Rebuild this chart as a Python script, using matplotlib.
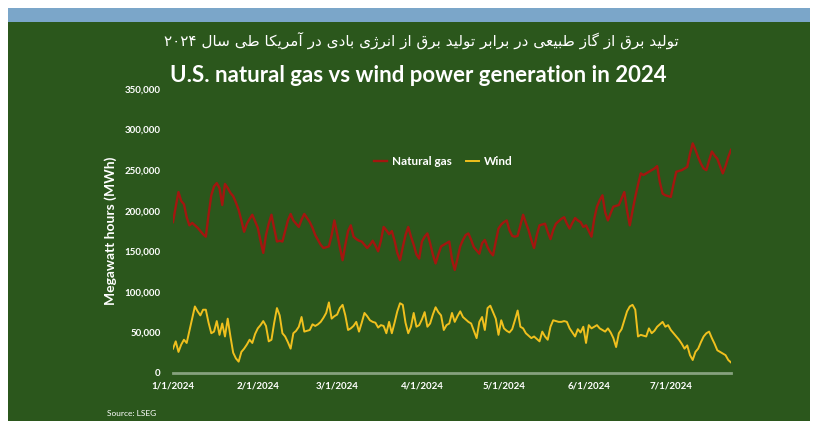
import re
import matplotlib
matplotlib.use('Agg')
import matplotlib.pyplot as plt
from matplotlib.patches import Rectangle
import pandas as pd

# daily generation, thousand MWh, 1/1/2024 .. 7/23/2024
gas_k = [186, 205, 223, 212, 208, 192, 182, 185, 182, 179, 175, 171, 168, 195, 219, 230, 234, 228, 207, 233,
         228, 222, 218, 210, 201, 188, 174, 184, 190, 195, 187, 179, 163, 148, 170, 184, 195, 178, 162, 163,
         162, 175, 188, 196, 188, 184, 180, 189, 196, 191, 186, 179, 170, 164, 158, 154, 155, 156, 170, 188,
         172, 155, 139, 158, 175, 182, 168, 165, 163, 162, 158, 154, 158, 163, 157, 150, 163, 180, 176, 171,
         175, 163, 148, 139, 155, 170, 180, 168, 158, 146, 141, 162, 168, 172, 160, 146, 135, 146, 156, 158,
         160, 162, 140, 127, 141, 156, 164, 170, 172, 164, 155, 151, 147, 160, 164, 155, 149, 145, 162, 178,
         183, 186, 188, 176, 169, 168, 169, 182, 195, 185, 176, 164, 154, 170, 182, 183, 184, 174, 165, 176,
         184, 187, 190, 192, 184, 178, 185, 191, 188, 186, 180, 182, 175, 168, 190, 205, 213, 219, 198, 188,
         197, 205, 206, 207, 215, 223, 200, 182, 200, 217, 232, 246, 244, 246, 248, 250, 252, 255, 235, 221,
         219, 218, 217, 233, 248, 249, 250, 252, 254, 270, 283, 275, 266, 258, 252, 250, 262, 273, 268, 264,
         255, 246, 255, 266, 275]
wind_k = [30, 39, 26, 35, 41, 37, 52, 67, 82, 76, 71, 78, 78, 62, 49, 51, 64, 47, 61, 45,
          67, 45, 25, 18, 14, 26, 30, 35, 41, 37, 48, 55, 59, 64, 58, 39, 41, 62, 80, 71,
          49, 45, 38, 30, 49, 52, 57, 69, 51, 52, 53, 60, 58, 60, 63, 68, 74, 87, 67, 70,
          72, 80, 84, 71, 53, 55, 58, 63, 51, 62, 74, 70, 65, 63, 62, 56, 59, 58, 49, 63,
          49, 62, 76, 86, 84, 62, 49, 57, 74, 57, 59, 66, 75, 57, 61, 72, 81, 75, 71, 53,
          59, 61, 74, 63, 70, 76, 69, 66, 63, 61, 52, 43, 63, 69, 53, 80, 83, 75, 67, 47,
          65, 55, 52, 50, 54, 65, 77, 57, 55, 49, 46, 43, 45, 42, 39, 51, 45, 41, 57, 65,
          64, 63, 63, 64, 63, 55, 50, 45, 54, 50, 57, 37, 59, 55, 57, 59, 55, 53, 51, 55,
          50, 43, 32, 49, 54, 65, 76, 82, 84, 78, 45, 47, 46, 45, 55, 49, 52, 57, 60, 63,
          57, 59, 53, 49, 45, 41, 36, 30, 34, 22, 16, 26, 30, 38, 45, 49, 51, 43, 36, 28,
          26, 24, 22, 16, 13]
dates = pd.date_range('2024-01-01', periods=len(gas_k), freq='D')

tick_dates = pd.to_datetime(['2024-01-01', '2024-02-01', '2024-03-01', '2024-04-01',
                             '2024-05-01', '2024-06-01', '2024-07-01'])
tick_labels = ['1/1/2024', '2/1/2024', '3/1/2024', '4/1/2024', '5/1/2024', '6/1/2024', '7/1/2024']
y_ticks = [0, 50000, 100000, 150000, 200000, 250000, 300000, 350000]

title_fa = 'تولید برق از گاز طبیعی در برابر تولید برق از انرژی بادی در آمریکا طی سال ۲۰۲۴'
title_en = 'U.S. natural gas vs wind power generation in 2024'

# matplotlib does no arabic shaping / bidi, so do it by hand
FORMS = {
    'ا': '\uFE8D\uFE8E', 'آ': '\uFE81\uFE82', 'د': '\uFEA9\uFEAA', 'ر': '\uFEAD\uFEAE',
    'ز': '\uFEAF\uFEB0', 'ژ': '\uFB8A\uFB8B', 'و': '\uFEED\uFEEE',
    'ب': '\uFE8F\uFE90\uFE91\uFE92', 'ت': '\uFE95\uFE96\uFE97\uFE98', 'س': '\uFEB1\uFEB2\uFEB3\uFEB4',
    'ط': '\uFEC1\uFEC2\uFEC3\uFEC4', 'ع': '\uFEC9\uFECA\uFECB\uFECC', 'ق': '\uFED5\uFED6\uFED7\uFED8',
    'ک': '\uFB8E\uFB8F\uFB90\uFB91', 'گ': '\uFB92\uFB93\uFB94\uFB95', 'ل': '\uFEDD\uFEDE\uFEDF\uFEE0',
    'م': '\uFEE1\uFEE2\uFEE3\uFEE4', 'ن': '\uFEE5\uFEE6\uFEE7\uFEE8', 'ی': '\uFBFC\uFBFD\uFBFE\uFBFF',
}


def shape_rtl(text):
    out = []
    for i, ch in enumerate(text):
        f = FORMS.get(ch)
        if f is None:
            out.append(ch)
            continue
        prev = text[i - 1] if i > 0 else ''
        nxt = text[i + 1] if i + 1 < len(text) else ''
        jp = prev in FORMS and len(FORMS[prev]) == 4
        jn = len(f) == 4 and nxt in FORMS
        if jp and jn:
            out.append(f[3])
        elif jp:
            out.append(f[1])
        elif jn:
            out.append(f[2])
        else:
            out.append(f[0])
    tokens = re.split('([۰-۹]+)', ''.join(out))
    return ''.join(t if re.fullmatch('[۰-۹]+', t) else t[::-1] for t in reversed(tokens))


green = '#2b571c'
font = ['Lato', 'DejaVu Sans']
plt.rcParams['font.family'] = font

fig = plt.figure(figsize=(8.19, 4.21), dpi=100, facecolor='white')
fig.patches.append(Rectangle((8 / 819, 0), 802 / 819, 399 / 421, transform=fig.transFigure,
                             facecolor=green, edgecolor='none', zorder=-10))
fig.patches.append(Rectangle((8 / 819, 399 / 421), 802 / 819, 14 / 421, transform=fig.transFigure,
                             facecolor='#7ba6c9', edgecolor='none', zorder=-10))

ax = fig.add_axes([173 / 819, 48 / 421, 558 / 819, 284 / 421])
ax.set_facecolor('none')
ax.set_zorder(1)

gas = [v * 1000 for v in gas_k]
wind = [v * 1000 for v in wind_k]
ax.plot(dates, gas, color='#a3160f', lw=1.7, label='Natural gas', zorder=3)
ax.plot(dates, wind, color='#f0c01e', lw=1.4, label='Wind', zorder=3)

ax.set_xlim(dates[0], dates[-1])
ax.set_ylim(0, 350000)
ax.set_yticks(y_ticks)
ax.set_yticklabels([f'{v:,}' for v in y_ticks])
ax.set_xticks(tick_dates)
ax.set_xticklabels(tick_labels)
ax.tick_params(axis='y', length=0, pad=9, labelsize=7, labelcolor='white')
ax.tick_params(axis='x', length=0, pad=6, labelsize=7, labelcolor='white')
for lab in ax.get_xticklabels() + ax.get_yticklabels():
    lab.set_fontweight('bold')

for s in ['top', 'right', 'left']:
    ax.spines[s].set_visible(False)
ax.spines['bottom'].set_color('#86a27e')
ax.spines['bottom'].set_linewidth(2)

ax.set_ylabel('Megawatt hours (MWh)', fontsize=10, fontweight='bold', color='white', labelpad=5)

leg = ax.legend(loc='center', bbox_to_anchor=(0.484, 0.746), ncol=2, frameon=False,
                fontsize=8.5, handlelength=1.1, handletextpad=0.4, columnspacing=1.2)
for t in leg.get_texts():
    t.set_color('white')
    t.set_fontweight('bold')

fig.text(0.515, 1 - 40 / 421, shape_rtl(title_fa), ha='center', va='center', color='white',
         fontsize=11, family=['DejaVu Sans'])
fig.text(0.511, 1 - 75 / 421, title_en, ha='center', va='center', color='white',
         fontsize=16, fontweight='bold')
fig.text(107 / 819, 1 - 413 / 421, 'Source: LSEG', ha='left', va='center', color='white',
         fontsize=6)

fig.savefig('out.png', dpi=100, facecolor=fig.get_facecolor())
